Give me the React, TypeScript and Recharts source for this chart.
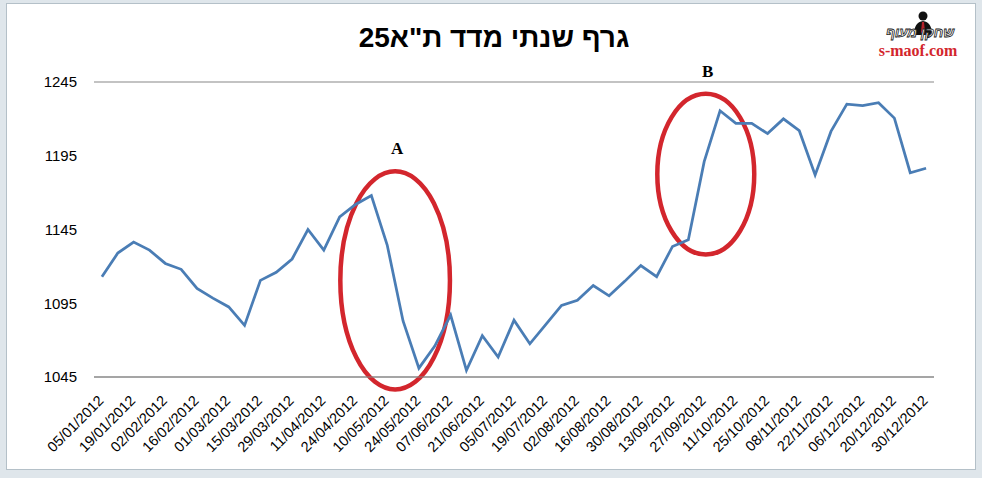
import { LineChart, Line, XAxis, YAxis, CartesianGrid, ReferenceArea } from "recharts";

// weekly closing values of the TA-25 index, 2012
const dates = [
  "05/01/2012", "12/01/2012", "19/01/2012", "26/01/2012", "02/02/2012", "09/02/2012",
  "16/02/2012", "23/02/2012", "01/03/2012", "08/03/2012", "15/03/2012", "22/03/2012",
  "29/03/2012", "05/04/2012", "11/04/2012", "19/04/2012", "24/04/2012", "03/05/2012",
  "10/05/2012", "17/05/2012", "24/05/2012", "31/05/2012", "07/06/2012", "14/06/2012",
  "21/06/2012", "28/06/2012", "05/07/2012", "12/07/2012", "19/07/2012", "26/07/2012",
  "02/08/2012", "09/08/2012", "16/08/2012", "23/08/2012", "30/08/2012", "06/09/2012",
  "13/09/2012", "20/09/2012", "27/09/2012", "04/10/2012", "11/10/2012", "18/10/2012",
  "25/10/2012", "01/11/2012", "08/11/2012", "15/11/2012", "22/11/2012", "29/11/2012",
  "06/12/2012", "13/12/2012", "20/12/2012", "27/12/2012", "30/12/2012",
];

const values = [
  1113, 1129, 1136.5, 1131, 1122, 1118, 1105, 1098.5, 1092.5, 1080,
  1110.5, 1116, 1125, 1145, 1131, 1153.5, 1162, 1168, 1134.5, 1083,
  1051, 1066, 1087, 1049.5, 1073, 1058.5, 1083.5, 1067.5, 1080.5, 1093.5,
  1097, 1107, 1100, 1110, 1120.5, 1113, 1133.5, 1138, 1191, 1225.5,
  1217, 1217, 1210, 1220, 1212, 1182, 1211.5, 1230, 1229, 1231,
  1220.5, 1183.5, 1186.5,
];

const yTicks = [1045, 1095, 1145, 1195, 1245];
const xTicks = dates.map((_, i) => i).filter((i) => i % 2 === 0);

// circled areas, in data units (index on x, index points on y)
const marks = [
  { name: "A", x1: 14.9, x2: 22.1, y1: 1035, y2: 1186 },
  { name: "B", x1: 34.9, x2: 41.3, y1: 1126.5, y2: 1238.5 },
];

const chartData = values.map((v, i) => ({ idx: i, date: dates[i], value: v }));

const RED = "#d3262d";
const BLUE = "#4a7db5";
const GRID = "#878787";

function EllipseMark(props: any) {
  const { x, y, width, height, name } = props;
  const sw = 4.5;
  const cx = x + width / 2;
  const cy = y + height / 2;
  return (
    <g>
      <ellipse
        cx={cx}
        cy={cy}
        rx={width / 2 - sw / 2}
        ry={height / 2 - sw / 2}
        fill="none"
        stroke={RED}
        strokeWidth={sw}
      />
      <text
        x={cx + 2}
        y={y - 15}
        textAnchor="middle"
        fontFamily="'Liberation Serif', 'Times New Roman', serif"
        fontWeight="bold"
        fontSize={17}
        fill="#000"
      >
        {name}
      </text>
    </g>
  );
}

function DateTick(props: any) {
  const { x, y, payload } = props;
  return (
    <g transform={`translate(${x - 1},${y + 13})`}>
      <text
        x={0}
        y={0}
        dy="0.35em"
        textAnchor="end"
        transform="rotate(-45)"
        fontFamily="'Liberation Sans', Arial, sans-serif"
        fontSize={14.5}
        fill="#000"
      >
        {dates[payload.value]}
      </text>
    </g>
  );
}

function Logo() {
  return (
    <div style={{ position: "absolute", left: 866, top: 8, width: 104, height: 52 }}>
      <svg width={104} height={52}>
        <circle cx={57} cy={8} r={4.5} fill="#111" />
        <path d="M48 27 Q48 14 57 13 Q66 14 66 27 Z" fill="#111" />
        <path d="M56 14 L58 14 L59 24 L57 27 L55 24 Z" fill="#b3202a" />
        <text
          x={54}
          y={29}
          textAnchor="middle"
          direction="rtl"
          fontFamily="'Liberation Sans', Arial, sans-serif"
          fontStyle="italic"
          fontWeight="bold"
          fontSize={13.5}
          fill="#fff"
          stroke="#222"
          strokeWidth={0.8}
        >
          שחקן מעוף
        </text>
        <text
          x={52}
          y={48}
          textAnchor="middle"
          fontFamily="'Liberation Serif', 'Times New Roman', serif"
          fontWeight="bold"
          fontSize={16}
          fill={RED}
        >
          s-maof.com
        </text>
      </svg>
    </div>
  );
}

export default function App() {
  return (
    <div
      style={{
        position: "absolute",
        left: 0,
        top: 0,
        width: 982,
        height: 478,
        background: "#dfe6eb",
        fontFamily: "'Liberation Sans', Arial, sans-serif",
      }}
    >
      <div
        style={{
          position: "absolute",
          left: 6,
          top: 3,
          width: 968,
          height: 465,
          background: "#fff",
          border: "1px solid #b4c0c8",
        }}
      />
      <div
        dir="rtl"
        style={{
          position: "absolute",
          left: 0,
          top: 22,
          width: 988,
          textAlign: "center",
          fontSize: 28,
          fontWeight: "bold",
          color: "#000",
        }}
      >
        גרף שנתי מדד ת"א25
      </div>
      <Logo />
      <div style={{ position: "absolute", left: 0, top: 0 }}>
        <LineChart
          width={982}
          height={478}
          data={chartData}
          margin={{ top: 82, right: 48, bottom: 6, left: 0 }}
        >
          <CartesianGrid vertical={false} stroke={GRID} strokeWidth={1} />
          <XAxis
            dataKey="idx"
            type="number"
            domain={[-0.5, 52.5]}
            ticks={xTicks}
            interval={0}
            tick={<DateTick />}
            tickLine={false}
            axisLine={{ stroke: GRID }}
            height={95}
          />
          <YAxis
            yAxisId="left"
            domain={[1045, 1245]}
            ticks={yTicks}
            width={94}
            tickLine={false}
            axisLine={false}
            tickMargin={11}
            tick={{ fill: "#000", fontSize: 15, fontFamily: "'Liberation Sans', Arial, sans-serif" }}
          />
          <YAxis
            yAxisId="right"
            orientation="right"
            width={0}
            tick={false}
            tickLine={false}
            axisLine={{ stroke: GRID }}
          />
          <Line
            yAxisId="left"
            type="linear"
            dataKey="value"
            stroke={BLUE}
            strokeWidth={2.75}
            dot={false}
            activeDot={false}
            isAnimationActive={false}
          />
          {marks.map((m) => (
            <ReferenceArea
              key={m.name}
              yAxisId="left"
              x1={m.x1}
              x2={m.x2}
              y1={m.y1}
              y2={m.y2}
              ifOverflow="visible"
              shape={(p: any) => <EllipseMark {...p} name={m.name} />}
            />
          ))}
        </LineChart>
      </div>
    </div>
  );
}
